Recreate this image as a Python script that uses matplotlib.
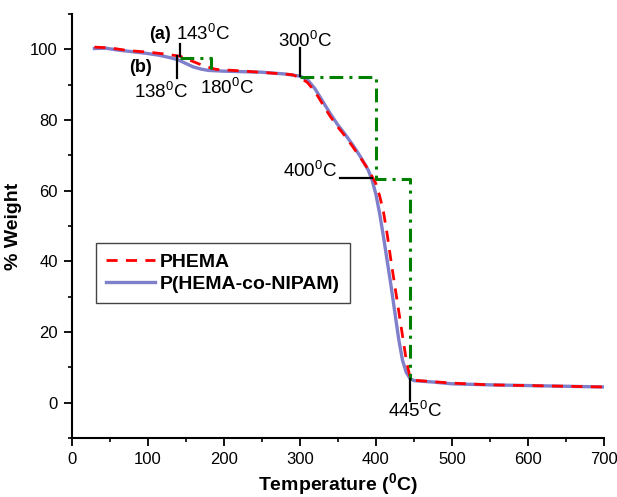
import matplotlib
matplotlib.use("Agg")
import matplotlib.pyplot as plt
from matplotlib.ticker import MultipleLocator

plt.rcParams['font.family'] = ['Liberation Sans', 'DejaVu Sans']
plt.rcParams['mathtext.fontset'] = 'custom'
plt.rcParams['mathtext.rm'] = 'Liberation Sans'
plt.rcParams['mathtext.bf'] = 'Liberation Sans:bold'

temp_phema = [30, 50, 75, 100, 125, 143, 160, 175, 190, 220, 260, 290, 300, 310, 320, 330, 340, 350, 360,
              370, 380, 390, 400, 405, 410, 415, 420, 425, 430, 435, 440, 445, 450, 475, 500, 550, 600, 650, 700]
w_phema = [100.6, 100.4, 99.6, 99.2, 98.6, 98.0, 96.5, 95.2, 94.3, 93.9, 93.3, 92.8, 92.0, 90.6, 88.0, 84.5,
           81.0, 78.0, 75.3, 72.3, 69.2, 66.0, 62.0, 58.5, 54.0, 47.5, 40.0, 33.0, 26.0, 19.0, 12.0, 7.0, 6.3,
           5.9, 5.5, 5.0, 4.8, 4.6, 4.4]

temp_copoly = [30, 45, 60, 80, 100, 115, 130, 140, 150, 160, 170, 180, 200, 250, 280, 300, 310, 320, 330, 340,
               350, 360, 370, 380, 390, 395, 400, 405, 410, 415, 420, 425, 430, 435, 440, 445, 450, 475, 500,
               550, 600, 650, 700]
w_copoly = [100.2, 100.3, 99.8, 99.3, 98.8, 98.3, 97.6, 97.0, 96.0, 95.0, 94.4, 94.0, 93.8, 93.5, 93.0, 92.4,
            91.4, 88.8, 85.3, 81.8, 78.6, 75.8, 72.8, 69.5, 65.8, 63.0, 59.0, 53.5, 47.0, 40.0, 33.0, 25.5,
            18.0, 12.0, 8.5, 6.8, 6.2, 5.8, 5.3, 5.0, 4.8, 4.6, 4.4]

# green dash-dot step guides
step1_x = [143, 183, 183]
step1_y = [97.6, 97.6, 94.3]
step2_x = [300, 400, 400, 445, 445]
step2_y = [92.2, 92.2, 63.3, 63.3, 6.5]

fig = plt.figure(figsize=(6.17, 4.97), dpi=100)
ax = fig.add_axes([0.116, 0.119, 0.863, 0.853])

ax.plot(temp_phema, w_phema, color='#ff0000', lw=2.0, ls=(0, (4, 3)), label='PHEMA', zorder=3)
ax.plot(temp_copoly, w_copoly, color='#7f7fcc', lw=2.4, label='P(HEMA-co-NIPAM)', zorder=2)
gls = (0, (4.5, 2, 1, 2))
ax.plot(step1_x, step1_y, color='#008000', lw=2.2, ls=gls, zorder=4)
ax.plot(step2_x, step2_y, color='#008000', lw=2.2, ls=gls, zorder=4)

# black marker lines
blk = dict(color='black', lw=1.6, zorder=5)
ax.plot([143, 143], [98.0, 101.5], **blk)
ax.plot([138.5, 138.5], [92.0, 98.2], **blk)
ax.plot([300, 300], [92.3, 100.3], **blk)
ax.plot([353, 395], [63.5, 63.5], **blk)
ax.plot([445, 445], [6.8, 0.5], **blk)

tk = dict(fontsize=13.5, color='black')
ax.text(131, 104.2, '(a)', fontsize=13, fontweight='bold', ha='right', va='center')
ax.text(137, 104.4, r'143$^{0}$C', ha='left', va='center', **tk)
ax.text(105, 94.8, '(b)', fontsize=13, fontweight='bold', ha='right', va='center')
ax.text(118, 88.0, r'138$^{0}$C', ha='center', va='center', **tk)
ax.text(205, 89.2, r'180$^{0}$C', ha='center', va='center', **tk)
ax.text(307, 102.4, r'300$^{0}$C', ha='center', va='center', **tk)
ax.text(314, 65.6, r'400$^{0}$C', ha='center', va='center', **tk)
ax.text(451, -2.4, r'445$^{0}$C', ha='center', va='center', **tk)

ax.set_xlim(0, 700)
ax.set_ylim(-10, 110)
ax.xaxis.set_major_locator(MultipleLocator(100))
ax.xaxis.set_minor_locator(MultipleLocator(50))
ax.yaxis.set_minor_locator(MultipleLocator(10))
ax.set_yticks([0, 20, 40, 60, 80, 100])
ax.tick_params(which='major', direction='out', length=6, width=1.3, labelsize=12)
ax.tick_params(axis='x', which='major', pad=4)
ax.tick_params(axis='y', which='major', pad=4)
ax.tick_params(which='minor', direction='out', length=3, width=1.2)
for s in ['top', 'right']:
    ax.spines[s].set_visible(False)
for s in ['left', 'bottom']:
    ax.spines[s].set_linewidth(1.5)

ax.set_xlabel(r'Temperature ($\mathbf{^0}$C)', fontsize=14, fontweight='bold', labelpad=3)
ax.set_ylabel('% Weight', fontsize=14, fontweight='bold', labelpad=6)

leg = ax.legend(loc='upper left', bbox_to_anchor=(0.045, 0.46), fancybox=False, framealpha=1,
                edgecolor='#444444', prop={'weight': 'bold', 'size': 14}, handlelength=2.5,
                handletextpad=0.25, borderpad=0.55, labelspacing=0.2, borderaxespad=0)
leg.get_frame().set_linewidth(1.0)

fig.savefig('out.png', dpi=100)
